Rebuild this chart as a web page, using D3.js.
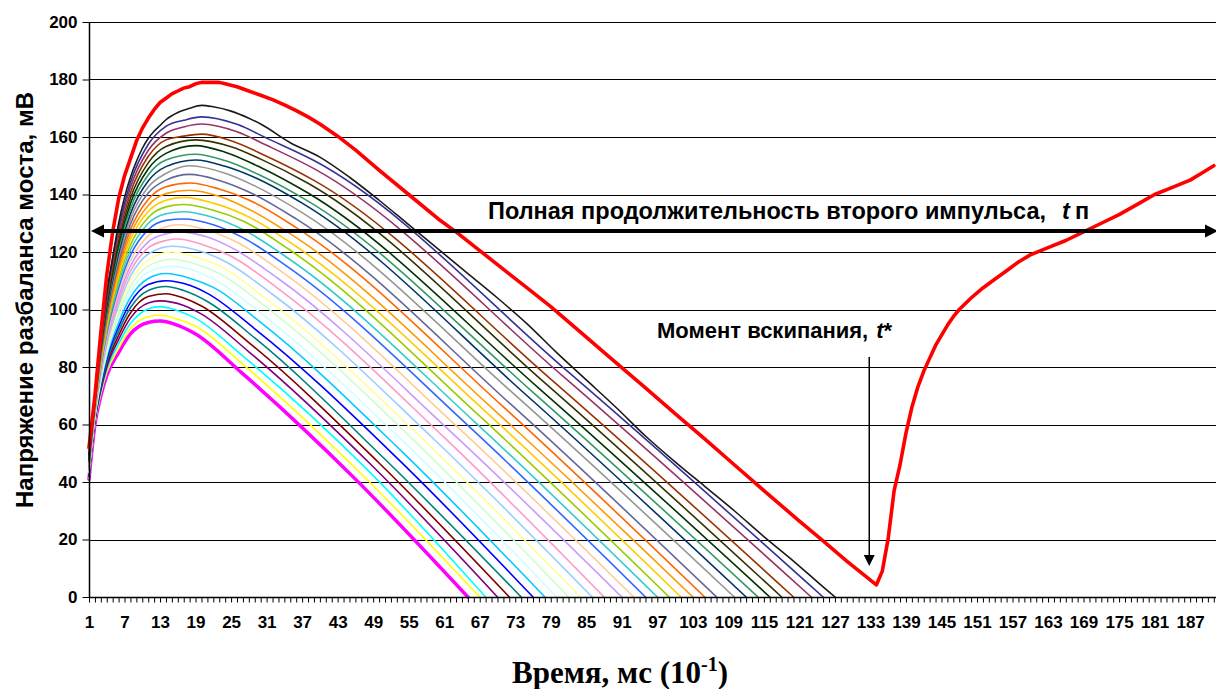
<!DOCTYPE html>
<html><head><meta charset="utf-8">
<script src="https://cdn.jsdelivr.net/npm/d3@7"></script>
<style>
body{margin:0;background:#fff}
svg text{font-family:"Liberation Sans",Arial,sans-serif;font-weight:bold;fill:#000}
</style>
</head><body>
<svg id="chart" width="1216" height="689"></svg>
<script>
// ---------- data ----------
const xTickLabels = [1,7,13,19,25,31,37,43,49,55,61,67,73,79,85,91,97,103,109,115,121,127,133,139,145,151,157,163,169,175,181,187];
const yTicks = [0,20,40,60,80,100,120,140,160,180,200];
const firstCategory = 1;
const lastCategory = 191;

const curve00 = [[1,41],[2,60],[3,70],[4,77],[6,85],[8,91.5],[11,95.5],[13,96],[16,94.5],[19,91.5],[27,77.6],[46,41],[65,0]];
const curve01 = [[1,41.3],[2,60.3],[3,70.7],[4,78],[6,86.5],[8,93.3],[11,97.5],[13,98],[16,96.6],[19,94.2],[27,80.9],[47,42.8],[67,0]];
const curve02 = [[1,41.6],[2,60.7],[3,71.3],[4,78.9],[6,88],[8,95.1],[11,100.2],[13,101],[16,99.6],[19,96.9],[27,83.8],[48,44.3],[68,0]];
const curve03 = [[1,41.9],[2,61],[3,72],[4,79.9],[6,89.5],[8,97],[11,102.3],[13,103],[17,101.4],[20,98.4],[28,85.3],[49,45.3],[70,0]];
const curve04 = [[1,42.1],[2,61.3],[3,72.7],[4,80.9],[6,91],[8,98.8],[11,104.5],[14,105.5],[17,104],[20,101.2],[28,88.5],[50,46.6],[72,0]];
const curve05 = [[1,42.4],[2,61.7],[3,73.3],[4,81.8],[6,92.5],[8,100.6],[11,106.6],[14,108],[17,106.6],[21,102.8],[29,90.1],[51,47.9],[74,0]];
const curve06 = [[1,42.7],[2,62],[3,74],[4,82.8],[6,94],[8,102.4],[11,108.7],[14,110],[18,108.4],[21,105.6],[29,93.3],[53,48.4],[76,0]];
const curve07 = [[1,43],[2,62.3],[3,74.7],[4,83.8],[6,95.5],[8,104.2],[11,110.8],[14,112.5],[18,110.9],[22,107.7],[30,95.5],[54,50.3],[78,0]];
const curve08 = [[1,43.3],[2,62.7],[3,75.3],[4,84.7],[6,97],[8,106],[11,112.9],[15,115],[19,113.4],[23,109.4],[31,97.1],[55,52.3],[80,0]];
const curve09 = [[1,43.6],[2,63],[3,76],[4,85.7],[6,98.5],[8,107.9],[11,115.1],[15,117.5],[19,115.8],[23,112.5],[31,100.7],[57,52.2],[82,0]];
const curve10 = [[1,43.8],[2,63.3],[3,76.7],[4,86.7],[6,100],[8,109.7],[11,117.2],[15,120],[19,118.3],[23,115.2],[31,103.6],[58,53.7],[84,0]];
const curve11 = [[1,44.1],[2,63.7],[3,77.3],[4,87.6],[6,101.5],[8,111.5],[11,119.3],[15,122],[20,120.2],[24,116.7],[32,105.3],[59,55.4],[86,0]];
const curve12 = [[1,44.4],[2,64],[3,78],[4,88.6],[6,103],[8,113.3],[11,121.4],[14,124],[16,124.5],[20,122.7],[25,118.5],[33,107.2],[61,55.5],[88,0]];
const curve13 = [[1,44.7],[2,64.3],[3,78.7],[4,89.6],[6,104.5],[8,115.1],[11,123.5],[14,126.3],[16,127],[21,125.2],[25,121.6],[33,110.7],[62,57.7],[91,0]];
const curve14 = [[1,45],[2,64.7],[3,79.3],[4,90.5],[6,106],[8,116.9],[11,125.6],[14,128.7],[16,129.5],[21,127.6],[26,123.4],[34,112.5],[63,59.6],[93,0]];
const curve15 = [[1,45.3],[2,65],[3,80],[4,91.5],[6,107.5],[8,118.8],[11,127.8],[14,131],[17,131.5],[22,129.5],[27,125],[35,114.2],[65,59.7],[95,0]];
const curve16 = [[1,45.5],[2,65.3],[3,80.7],[4,92.5],[6,109],[8,120.6],[11,129.9],[14,133.3],[17,134],[22,132],[27,127.8],[35,117.3],[66,61.2],[97,0]];
const curve17 = [[1,45.8],[2,65.7],[3,81.3],[4,93.4],[6,110.5],[8,122.4],[11,132],[14,135.7],[17,136.5],[22,134.5],[27,130.8],[35,120.6],[67,62.9],[99,0]];
const curve18 = [[1,46.1],[2,66],[3,82],[4,94.4],[6,112],[8,124.2],[11,134.1],[14,138],[17,139],[22,137],[28,132.2],[36,121.9],[68,64.5],[101,0]];
const curve19 = [[1,46.4],[2,66.3],[3,82.7],[4,95.4],[6,113.5],[8,126],[11,136.2],[14,140.3],[18,141.5],[23,139.4],[28,134.9],[36,125],[69,65.9],[103,0]];
const curve20 = [[1,46.7],[2,66.7],[3,83.3],[4,96.3],[6,115],[8,127.8],[11,138.3],[14,142.7],[18,144],[23,141.9],[28,138.1],[36,128.5],[71,66.1],[105,0]];
const curve21 = [[1,47],[2,67],[3,84],[4,97.3],[6,116.5],[8,129.7],[11,140.5],[14,145],[18,147],[23,144.9],[28,140.9],[36,131.5],[72,67.5],[107,0]];
const curve22 = [[1,47.2],[2,67.3],[3,84.7],[4,98.3],[6,118],[8,131.5],[11,142.6],[14,147.3],[18,150],[24,147.4],[29,143],[37,133.7],[73,70.2],[110,0]];
const curve23 = [[1,47.5],[2,67.7],[3,85.3],[4,99.2],[6,119.5],[8,133.3],[11,144.7],[14,149.7],[19,152],[24,149.8],[29,145.9],[37,137],[75,70],[112,0]];
const curve24 = [[1,47.8],[2,68],[3,86],[4,100.2],[6,121],[8,135.1],[11,146.8],[14,152],[19,154],[24,151.8],[30,146.6],[38,137.7],[76,71.2],[114,0]];
const curve25 = [[1,48.1],[2,68.3],[3,86.7],[4,101.2],[6,122.5],[8,136.9],[11,148.9],[14,154.3],[19,157],[24,154.7],[30,149.4],[38,140.5],[77,72.6],[116,0]];
const curve26 = [[1,48.4],[2,68.7],[3,87.3],[4,102.1],[6,124],[8,138.7],[11,151],[14,156.7],[19,159],[25,156.6],[30,152.3],[38,143.9],[78,74.5],[118,0]];
const curve27 = [[1,48.7],[2,69],[3,88],[4,103.1],[6,125.5],[8,140.6],[11,153.2],[14,159],[17,160.3],[20,161],[25,158.7],[31,153.3],[39,144.9],[79,75.8],[120,0]];
const curve28 = [[1,48.9],[2,69.3],[3,88.7],[4,104.1],[6,127],[8,142.4],[11,155.3],[14,161.3],[17,163.5],[20,164.5],[26,161.8],[31,157.1],[39,149],[81,76.9],[123,0]];
const curve29 = [[1,49.2],[2,69.7],[3,89.3],[4,105],[6,128.5],[8,144.2],[11,157.4],[14,163.7],[17,165.8],[20,167],[26,164.4],[31,159.6],[39,151.8],[82,78.2],[125,0]];
const curve30 = [[1,49.5],[2,70],[3,90],[4,106],[5,118],[6,130],[7,139],[8,146],[9,151.5],[10,156],[11,159.5],[12,162],[13,164],[14,166],[16,168.5],[18,170],[20,171],[22,170.5],[25,169],[28,166.5],[30,164.5],[35,158],[40,153],[45,146],[50,138],[55,129.5],[60,121],[65,112.5],[70,104],[75,95],[80,85],[85,75.5],[90,66],[95,56],[100,47],[105,38.5],[110,30],[115,21],[120,12.5],[125,3.5],[127,0]];

const thinCurves = [curve00,curve01,curve02,curve03,curve04,curve05,curve06,curve07,curve08,curve09,curve10,
  curve11,curve12,curve13,curve14,curve15,curve16,curve17,curve18,curve19,curve20,
  curve21,curve22,curve23,curve24,curve25,curve26,curve27,curve28,curve29,curve30];

const curveColors = ["#FF00FF","#FFFF00","#00FFFF","#800080","#800000","#008080","#0000FF","#00CCFF","#CCFFFF","#CCFFCC",
  "#FFFF99","#99CCFF","#FF99CC","#CC99FF","#FFCC99","#3366FF","#33CCCC","#99CC00","#FFCC00","#FF9900",
  "#FF6600","#666699","#969696","#003366","#339966","#003300","#333300","#993300","#993366","#333399","#1a1a1a"];

const boilingCurve = [[1,52],[2,70],[3,92],[4,112],[5,127],[6,138.5],[7,146.5],[8,152.5],[9,158.5],[10,163],[11,166.5],[12,169.5],[13,172],[14,173.5],[15,175],[16,176],[17,177],[18,177.5],[19,178.5],[20,179],[23,179],[24,178.5],[26,177.5],[28,176],[30,174.5],[32,173],[34,171.2],[36,169.2],[38,167],[40,164.5],[43,160.3],[46,155.5],[50,148.5],[55,140],[60,131.5],[63,127],[67,120.5],[70,115.6],[75,107.5],[79,101],[85,90.4],[90,81.5],[95,72.7],[100,63.8],[105,55],[110,46],[115,37],[121,26.4],[125,19.5],[129,12.5],[132,7.5],[134,4.2],[135,9],[136,20.4],[137,37],[138,46],[139,57],[140,66],[141,73],[142,78.5],[143,83],[144,87.5],[145,91],[146,94.5],[147,97.5],[148,100],[150,104],[152,107.5],[154,110.5],[156,113.5],[158,116.5],[160,119],[163,121.5],[166,124],[169,127],[172,130],[175,133],[178,136.5],[181,140],[184,142.5],[187,145],[189,147.5],[191,150]];

const spanArrowValue = 127.3;
const boilPointer = {category: 132.8, from: 83.5, to: 10.8};
const yTitle = "Напряжение разбаланса моста, мВ";
const spanLabel = "Полная продолжительность второго импульса,";
const boilLabel = "Момент вскипания,";

// ---------- drawing ----------
(function draw() {
  const plotLeft = 89, plotTop = 22, plotBottom = 597, plotRight = 1216;
  const svg = d3.select("#chart");

  const x = d3.scaleLinear().domain([firstCategory, lastCategory]).range([plotLeft, 1213.8]);
  const y = d3.scaleLinear().domain([0, 200]).range([plotBottom, plotTop]);

  // gridlines
  svg.append("g").selectAll("line").data(yTicks.filter(v => v > 0)).join("line")
    .attr("x1", plotLeft).attr("x2", plotRight)
    .attr("y1", d => Math.round(y(d)) + 0.5).attr("y2", d => Math.round(y(d)) + 0.5)
    .attr("stroke", "#000").attr("stroke-width", 1);

  // curves
  const line = d3.line().x(d => x(d[0])).y(d => y(d[1])).curve(d3.curveMonotoneX);
  const g = svg.append("g").attr("fill", "none").attr("stroke-linejoin", "round").attr("stroke-linecap", "round");
  thinCurves.forEach((c, i) => {
    g.append("path").attr("d", line(c)).attr("stroke", curveColors[i])
      .attr("stroke-width", i === 0 ? 3.5 : 1.6);
  });
  g.append("path").attr("d", d3.line().x(d => x(d[0])).y(d => y(d[1])).curve(d3.curveLinear)(boilingCurve))
    .attr("stroke", "#FF0000").attr("stroke-width", 3.6);

  // axes
  const labelSet = new Set(xTickLabels);
  const xAxis = d3.axisBottom(x).tickValues(d3.range(firstCategory, lastCategory + 1))
    .tickSize(5).tickSizeOuter(0).tickPadding(13)
    .tickFormat(d => labelSet.has(d) ? d : "");
  const gx = svg.append("g").attr("transform", `translate(0,${plotBottom + 0.5})`).call(xAxis);
  gx.select(".domain").remove();
  gx.selectAll(".tick line").attr("stroke", "#000");
  gx.selectAll(".tick text").style("font-size", "17px").style("font-family", "'Liberation Sans',Arial,sans-serif").style("font-weight", "bold");
  svg.append("line").attr("x1", plotLeft).attr("x2", plotRight).attr("y1", plotBottom + 0.5).attr("y2", plotBottom + 0.5)
    .attr("stroke", "#000").attr("stroke-width", 1.5);

  const yAxis = d3.axisLeft(y).tickValues(yTicks).tickSize(7).tickSizeOuter(0).tickPadding(5);
  const gy = svg.append("g").attr("transform", `translate(${plotLeft + 0.5},0)`).call(yAxis);
  gy.select(".domain").remove();
  gy.selectAll(".tick line").attr("stroke", "#000");
  gy.selectAll(".tick text").style("font-size", "17px").style("font-family", "'Liberation Sans',Arial,sans-serif").style("font-weight", "bold");
  svg.append("line").attr("x1", plotLeft + 0.5).attr("x2", plotLeft + 0.5).attr("y1", plotTop).attr("y2", plotBottom + 1)
    .attr("stroke", "#000").attr("stroke-width", 1.5);

  // axis titles
  svg.append("text").attr("transform", `translate(33,300) rotate(-90)`).attr("text-anchor", "middle")
    .style("font-size", "24px").text(yTitle);
  const xt = svg.append("text").attr("x", 512).attr("y", 683)
    .style("font-family", "'Liberation Serif','Times New Roman',serif").style("font-size", "31px");
  xt.append("tspan").text("Время, мс (10");
  xt.append("tspan").attr("dy", -12).style("font-size", "20px").text("-1");
  xt.append("tspan").attr("dy", 12).text(")");

  // double arrow (full pulse duration)
  const ay = y(spanArrowValue);
  svg.append("line").attr("x1", plotLeft + 8).attr("x2", plotRight - 6).attr("y1", ay).attr("y2", ay)
    .attr("stroke", "#000").attr("stroke-width", 4);
  svg.append("path").attr("d", `M${plotLeft + 2},${ay} L${plotLeft + 15},${ay - 6.5} L${plotLeft + 15},${ay + 6.5} Z`).attr("fill", "#000");
  svg.append("path").attr("d", `M${plotRight + 2},${ay} L${plotRight - 11},${ay - 6.5} L${plotRight - 11},${ay + 6.5} Z`).attr("fill", "#000");

  const st = svg.append("text").attr("x", 488).attr("y", 219).style("font-size", "23.5px");
  st.append("tspan").text(spanLabel);
  st.append("tspan").attr("dx", 16).style("font-style", "italic").text("t");
  st.append("tspan").attr("dx", 5).text("п");

  // boiling moment pointer
  const px = x(boilPointer.category);
  const py1 = y(boilPointer.from), py2 = y(boilPointer.to);
  svg.append("line").attr("x1", px).attr("x2", px).attr("y1", py1).attr("y2", py2 - 8)
    .attr("stroke", "#000").attr("stroke-width", 1.5);
  svg.append("path").attr("d", `M${px},${py2} L${px - 5.5},${py2 - 11} L${px + 5.5},${py2 - 11} Z`).attr("fill", "#000");

  const bt = svg.append("text").attr("x", 657).attr("y", 338).style("font-size", "22px");
  bt.append("tspan").text(boilLabel);
  bt.append("tspan").attr("dx", 8).style("font-style", "italic").text("t");
  bt.append("tspan").text("*");
})();
</script>
</body></html>
